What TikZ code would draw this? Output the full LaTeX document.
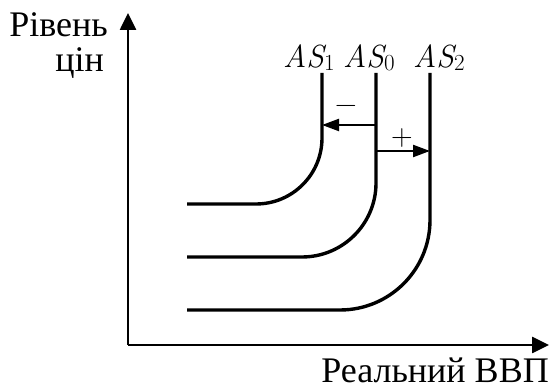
\documentclass[tikz,border=0pt]{standalone}
\usepackage{fontspec}
\setmainfont{Liberation Serif}
\newfontfamily\lmfont{Latin Modern Roman}
\usetikzlibrary{arrows.meta}

\newcommand{\asname}[1]{{\lmfont\itshape AS}\raisebox{-2.5pt}{\lmfont\fontsize{23}{23}\selectfont #1}}

\begin{document}
\begin{tikzpicture}[x=1pt,y=1pt,>={Triangle[length=17pt,width=16pt]},
  axis/.style={->,line width=2.6pt},
  curve/.style={line width=3.4pt,rounded corners=#1},
  moveline/.style={-{Triangle[length=17pt,width=12pt]},line width=2.2pt},
  lbl/.style={font=\fontsize{36}{36}\selectfont,inner sep=0pt},
  aslbl/.style={font=\fontsize{32}{32}\selectfont,inner sep=0pt,anchor=base west},
  sign/.style={font=\lmfont\fontsize{30}{30}\selectfont,inner sep=0pt}]
  \useasboundingbox (0,0) rectangle (553,390);

  % axes
  \coordinate (O)  at (128,45);
  \coordinate (Y)  at (128,377);
  \coordinate (X)  at (549,45);
  \draw[axis] (O) -- (Y);
  \draw[axis] (O) -- (X);
  \node[lbl,anchor=base east] (ylab)  at (108,353) {Рівень};
  \node[lbl,anchor=base east] (ylab2) at (104,318) {цін};
  \node[lbl,anchor=base east] (xlab)  at (549,7)   {Реальний ВВП};

  % supply curves
  \coordinate (a1) at (322,317); \coordinate (c1) at (322,186); \coordinate (e1) at (187,186);
  \coordinate (a0) at (376,317); \coordinate (c0) at (376,133); \coordinate (e0) at (187,133);
  \coordinate (a2) at (430,317); \coordinate (c2) at (430,80);  \coordinate (e2) at (187,80);
  \draw[curve=66pt] (a1) -- (c1) -- (e1);
  \draw[curve=74pt] (a0) -- (c0) -- (e0);
  \draw[curve=90pt] (a2) -- (c2) -- (e2);

  \node[aslbl] (as1) at (283,322) {\asname{1}};
  \node[aslbl] (as0) at (343,322) {\asname{0}};
  \node[aslbl] (as2) at (413,322) {\asname{2}};

  % shifts
  \coordinate (m0) at (377,265); \coordinate (m1) at (322,265);
  \coordinate (p0) at (377,239); \coordinate (p2) at (430,239);
  \draw[moveline] (m0) -- (m1);
  \draw[moveline] (p0) -- (p2);
  \node[sign] (minus) at (346,281) {−};
  \node[sign] (plus)  at (402,252) {+};
\end{tikzpicture}
\end{document}
